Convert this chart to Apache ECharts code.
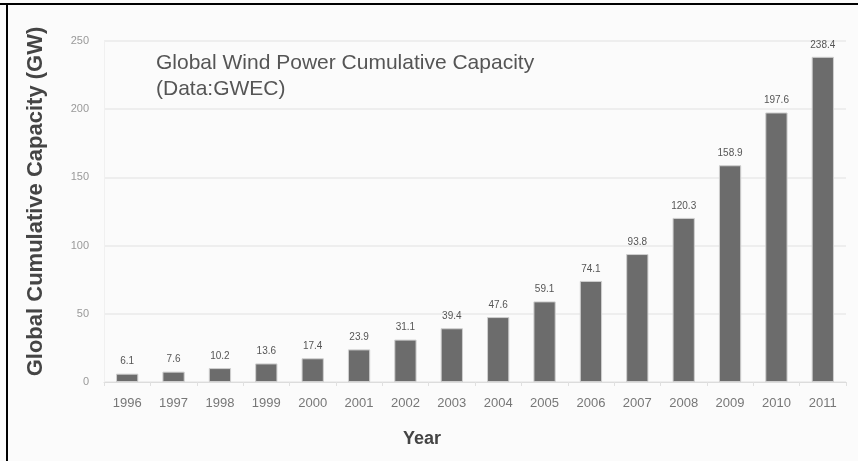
<!DOCTYPE html>
<html>
<head>
<meta charset="utf-8">
<script src="https://cdn.jsdelivr.net/npm/echarts@6/dist/echarts.min.js"></script>
<style>
  html, body { margin: 0; padding: 0; background: #fbfbfb; }
  #chart { width: 858px; height: 461px; }
</style>
</head>
<body>
<div id="chart"></div>
<script>
// Global cumulative installed wind capacity by year (GW)
const years = ['1996', '1997', '1998', '1999', '2000', '2001', '2002', '2003',
               '2004', '2005', '2006', '2007', '2008', '2009', '2010', '2011'];
const capacityGW = [6.1, 7.6, 10.2, 13.6, 17.4, 23.9, 31.1, 39.4,
                    47.6, 59.1, 74.1, 93.8, 120.3, 158.9, 197.6, 238.4];
const yTicks = { min: 0, max: 250, step: 50 };

const chart = echarts.init(document.getElementById('chart'), null, { renderer: 'canvas' });

chart.setOption({
  backgroundColor: '#fbfbfb',
  animation: false,
  textStyle: { fontFamily: 'Liberation Sans, Arial, sans-serif' },
  graphic: [
    // frame lines along the top and left edges
    { type: 'rect', shape: { x: 0, y: 3, width: 858, height: 2 }, style: { fill: '#000' } },
    { type: 'rect', shape: { x: 6, y: 3, width: 2, height: 458 }, style: { fill: '#000' } },
    // chart caption inside the plot
    {
      type: 'text', left: 156, top: 50,
      style: {
        text: 'Global Wind Power Cumulative Capacity\n(Data:GWEC)',
        font: '21px "Liberation Sans", Arial, sans-serif',
        fill: '#555', lineHeight: 26
      }
    }
  ],
  grid: { left: 104, right: 12, top: 41, bottom: 79 },
  xAxis: {
    type: 'category',
    data: years,
    name: 'Year',
    nameLocation: 'middle',
    nameGap: 48,
    nameTextStyle: { fontSize: 18, fontWeight: 'bold', color: '#444', padding: [0, 106, 0, 0] },
    axisLine: { show: true, lineStyle: { color: '#dcdcdc', width: 1 } },
    axisTick: { show: true, alignWithLabel: false, length: 4, lineStyle: { color: '#e0e0e0' } },
    axisLabel: { fontSize: 13, color: '#777', margin: 15, interval: 0 }
  },
  yAxis: {
    type: 'value',
    min: yTicks.min,
    max: yTicks.max,
    interval: yTicks.step,
    name: 'Global Cumulative Capacity (GW)',
    nameLocation: 'middle',
    nameGap: 57,
    nameTextStyle: { fontSize: 22, fontWeight: 'bold', color: '#444', padding: [0, 0, 0, 20] },
    axisLine: { show: true, lineStyle: { color: '#f0f0f0' } },
    axisTick: { show: false },
    axisLabel: { fontSize: 11, color: '#999', margin: 15 },
    splitLine: { show: true, lineStyle: { color: '#eeeeee', width: 2 } }
  },
  series: [{
    type: 'bar',
    data: capacityGW,
    barWidth: '48%',
    itemStyle: { color: '#6c6c6c', borderColor: '#cfcfcf', borderWidth: 1 },
    label: {
      show: true,
      position: 'top',
      distance: 7,
      fontSize: 10,
      color: '#555',
      formatter: p => p.value.toFixed(1)
    }
  }]
});
</script>
</body>
</html>
